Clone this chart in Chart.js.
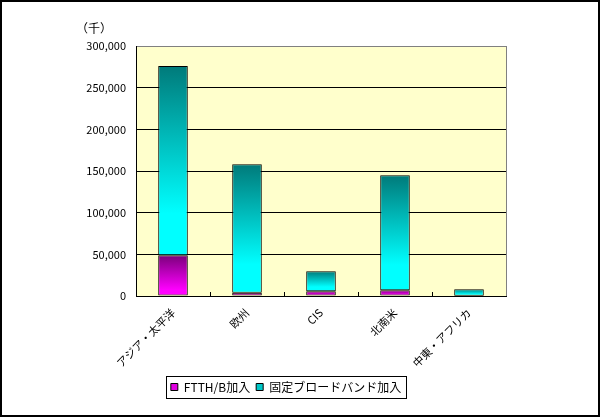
<!DOCTYPE html>
<html>
<head>
<meta charset="utf-8">
<script src="https://cdn.jsdelivr.net/npm/chart.js@4/dist/chart.umd.min.js"></script>
<style>
  html, body { margin: 0; padding: 0; background: #fff; }
  canvas { display: block; }
</style>
</head>
<body>
<canvas id="bbChart" width="600" height="417"></canvas>
<script>
// regions and subscriber additions (thousands)
const regions = ['アジア・太平洋', '欧州', 'CIS', '北南米', '中東・アフリカ'];
const ftthAdds = [49000, 4000, 5600, 6800, 300];
const fixedAdds = [227000, 154000, 24000, 138200, 7700];
const yTicks = [0, 50000, 100000, 150000, 200000, 250000, 300000];

const FONT = '"Noto Sans CJK JP", "DejaVu Sans", sans-serif';

// vertical gradient for one stacked segment, from its own top to bottom
function barGradient(c, base, top, stops) {
    const chart = c.chart;
    if (!chart.chartArea || c.type !== 'data') return stops[stops.length - 1][1];
    const y = chart.scales.y;
    const y0 = y.getPixelForValue(top);
    const y1 = y.getPixelForValue(base);
    const g = chart.ctx.createLinearGradient(0, y0, 0, y1);
    stops.forEach(s => g.addColorStop(s[0], s[1]));
    return g;
}

const frame = {
    id: 'frame',
    beforeDraw(chart) {
        const { ctx, chartArea: a } = chart;
        ctx.save();
        ctx.fillStyle = '#fff';
        ctx.fillRect(0, 0, chart.width, chart.height);
        ctx.fillStyle = '#FFFFCC';
        ctx.fillRect(a.left, a.top, a.right - a.left, a.bottom - a.top);
        ctx.restore();
    },
    afterDraw(chart) {
        const { ctx, chartArea: a, scales } = chart;
        ctx.save();
        // right edge of plot
        ctx.strokeStyle = '#808080';
        ctx.lineWidth = 1;
        ctx.beginPath();
        ctx.moveTo(a.right + 0.5, a.top);
        ctx.lineTo(a.right + 0.5, a.bottom);
        ctx.stroke();

        // small inner tick marks between categories
        ctx.strokeStyle = '#000';
        ctx.beginPath();
        for (let i = 0; i < regions.length - 1; i++) {
            const x = Math.round((scales.x.getPixelForValue(i) + scales.x.getPixelForValue(i + 1)) / 2) + 0.5;
            ctx.moveTo(x, a.bottom);
            ctx.lineTo(x, a.bottom - 4);
        }
        ctx.stroke();

        // unit label
        ctx.fillStyle = '#000';
        ctx.font = '12px ' + FONT;
        ctx.textBaseline = 'middle';
        ctx.fillText('（千）', 76, 28);

        // box around legend
        const hb = chart.legend.legendHitBoxes;
        if (hb && hb.length) {
            const l = Math.min(...hb.map(h => h.left)) - 5;
            const r = Math.max(...hb.map(h => h.left + h.width)) + 5;
            const t = hb[0].top - 5;
            const b = hb[0].top + hb[0].height + 5;
            ctx.strokeStyle = '#000';
            ctx.strokeRect(Math.round(l) + 0.5, Math.round(t) + 0.5, Math.round(r - l), Math.round(b - t));
        }

        // outer border
        ctx.lineWidth = 2;
        ctx.strokeRect(1, 1, chart.width - 2, chart.height - 2);
        ctx.restore();
    }
};

new Chart(document.getElementById('bbChart'), {
    type: 'bar',
    data: {
        labels: regions,
        datasets: [{
            label: 'FTTH/B加入',
            data: ftthAdds,
            backgroundColor: c => barGradient(c, 0, ftthAdds[c.dataIndex],
                [[0, '#7A007A'], [0.85, '#FF00FF'], [1, '#FF00FF']]),
            borderColor: '#000',
            borderWidth: 1,
            borderSkipped: false,
            barPercentage: 0.4,
            categoryPercentage: 1
        }, {
            label: '固定ブロードバンド加入',
            data: fixedAdds,
            backgroundColor: c => barGradient(c, ftthAdds[c.dataIndex],
                ftthAdds[c.dataIndex] + fixedAdds[c.dataIndex],
                [[0, '#007A7A'], [0.78, '#00FFFF'], [1, '#00FFFF']]),
            borderColor: '#000',
            borderWidth: 1,
            borderSkipped: false,
            barPercentage: 0.4,
            categoryPercentage: 1
        }]
    },
    options: {
        responsive: false,
        devicePixelRatio: 1,
        animation: false,
        layout: { padding: { left: 66, right: 94, top: 46, bottom: 14 } },
        plugins: {
            tooltip: { enabled: false },
            legend: {
                position: 'bottom',
                labels: {
                    font: { size: 12, family: FONT },
                    color: '#000',
                    boxWidth: 7,
                    boxHeight: 7,
                    padding: 6,
                    generateLabels: () => [
                        { text: 'FTTH/B加入', fillStyle: '#E000E0', strokeStyle: '#000', lineWidth: 1, datasetIndex: 0 },
                        { text: '固定ブロードバンド加入', fillStyle: '#00C8C8', strokeStyle: '#000', lineWidth: 1, datasetIndex: 1 }
                    ]
                }
            }
        },
        scales: {
            x: {
                stacked: true,
                grid: { display: false },
                border: { color: '#000', width: 1 },
                ticks: {
                    color: '#000',
                    font: { size: 11, family: FONT },
                    maxRotation: 45,
                    minRotation: 45,
                    padding: 2
                },
                afterFit: s => { s.height = 79; }
            },
            y: {
                stacked: true,
                min: 0,
                max: 300000,
                afterBuildTicks: s => { s.ticks = yTicks.map(v => ({ value: v })); },
                grid: {
                    color: c => (c.tick && c.tick.value === 300000) ? '#808080' : '#000',
                    drawTicks: false
                },
                border: { color: '#000', width: 1 },
                ticks: {
                    color: '#000',
                    font: { size: 11, family: FONT },
                    padding: 10,
                    callback: v => v.toLocaleString('en-US')
                },
                afterFit: s => { s.width = 70; }
            }
        }
    },
    plugins: [frame]
});
</script>
</body>
</html>
